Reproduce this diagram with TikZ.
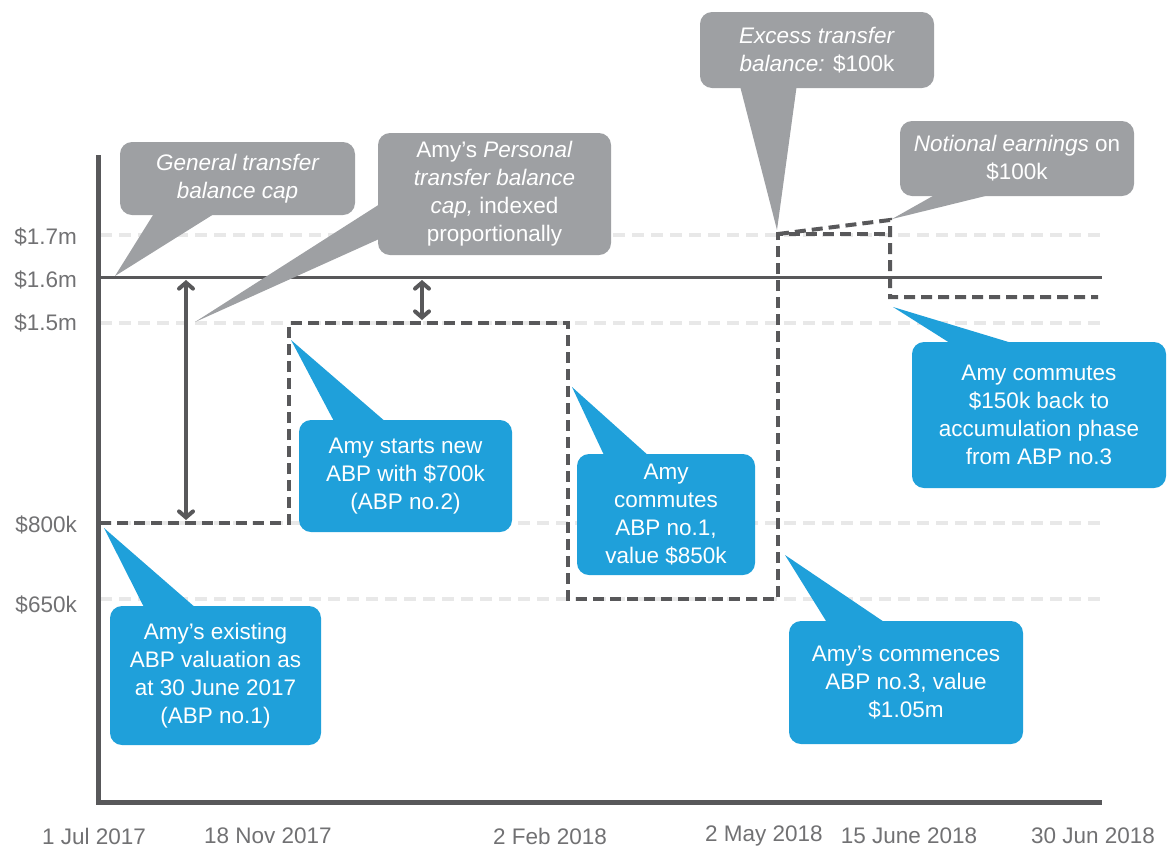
\documentclass[tikz,border=0pt]{standalone}
\usepackage{fontspec}
\setmainfont{Liberation Sans}
\usetikzlibrary{arrows.meta}
\definecolor{calloutgray}{RGB}{158,160,163}
\definecolor{calloutblue}{RGB}{31,160,218}
\definecolor{darkline}{RGB}{88,88,90}
\definecolor{gridline}{RGB}{232,232,232}
\tikzset{
  txt/.style={font=\fontsize{22.5}{28}\selectfont},
  graybox/.style={txt, fill=calloutgray, text=white, rounded corners=12pt, inner sep=0pt, align=center},
  bluebox/.style={txt, fill=calloutblue, text=white, rounded corners=12pt, inner sep=0pt, align=center},
  grayptr/.style={fill=calloutgray},
  blueptr/.style={fill=calloutblue},
  axisline/.style={draw=darkline, line width=5pt},
  capline/.style={draw=darkline, line width=3pt},
  gridl/.style={draw=gridline, line width=4pt, dash pattern=on 12pt off 7pt},
  series/.style={draw=darkline, line width=4pt, dash pattern=on 11pt off 6pt, line join=miter},
  gap/.style={draw=darkline, line width=3.5pt, {Straight Barb[length=6pt,width=14pt,line width=4pt,line cap=round]}-{Straight Barb[length=6pt,width=14pt,line width=4pt,line cap=round]}},
  ylab/.style={txt, text=darkline!85, anchor=east, inner sep=0pt},
  xlab/.style={txt, text=darkline!85, inner sep=0pt}
}
\begin{document}
\begin{tikzpicture}[x=1pt, y=-1pt]
\useasboundingbox (0,0) rectangle (1168,847);
% grid lines
\draw[gridl] (100,235) -- (1103,235);
\draw[gridl] (100,323) -- (1103,323);
\draw[gridl] (100,523) -- (1103,523);
\draw[gridl] (100,599) -- (1103,599);
% cap line
\draw[capline] (98,277) -- (1102,277);
% series
\draw[series] (100,523) -- (289,523) -- (289,323) -- (568,323) -- (568,599) -- (778,599) -- (778,234) -- (890,234);
\draw[series] (778,234) -- (890,220) -- (890,297) -- (1098,297);
% axes
\draw[axisline] (98,155) -- (98,802) -- (1102,802);
% gap arrows
\coordinate (g1a) at (186,280);
\coordinate (g1b) at (186,520);
\coordinate (g2a) at (422,280);
\coordinate (g2b) at (422,320);
\draw[gap] (g1a) -- (g1b);
\draw[gap] (g2a) -- (g2b);
% y labels
\node[ylab] (y17) at (77,237) {\$1.7m};
\node[ylab] (y16) at (77,280) {\$1.6m};
\node[ylab] (y15) at (77,323) {\$1.5m};
\node[ylab] (y800) at (77,525) {\$800k};
\node[ylab] (y650) at (77,605) {\$650k};
% x labels
\node[xlab] (d1) at (94,836) {1 Jul 2017};
\node[xlab] (d2) at (268,836) {18 Nov 2017};
\node[xlab] (d3) at (550,836) {2 Feb 2018};
\node[xlab] (d4) at (764,836) {2 May 2018};
\node[xlab] (d5) at (909,836) {15 June 2018};
\node[xlab] (d6) at (1093,836) {30 Jun 2018};
% callout tips
\coordinate (t1) at (115,276);
\coordinate (t2) at (195,322);
\coordinate (t3) at (777,230);
\coordinate (t4) at (892,219);
\coordinate (t5) at (104,528);
\coordinate (t6) at (291,340);
\coordinate (t7) at (572,387);
\coordinate (t8) at (785,555);
\coordinate (t9) at (893,307);
% gray callouts
\node[graybox, minimum width=235pt, minimum height=73pt] (b1) at (237.5,178.5) {\itshape General transfer\\\itshape balance cap};
\fill[grayptr] ([xshift=35pt,yshift=3pt]b1.south west) -- (t1) -- ([xshift=97pt,yshift=3pt]b1.south west) -- cycle;
\node[graybox, minimum width=233pt, minimum height=122pt] (b2) at (494.5,194) {Amy’s \textit{Personal}\\\textit{transfer balance}\\\textit{cap,} indexed\\proportionally};
\fill[grayptr] ([xshift=4pt,yshift=-70pt]b2.north west) -- (t2) -- ([xshift=4pt,yshift=-105pt]b2.north west) -- cycle;
\node[graybox, minimum width=234pt, minimum height=76pt] (b3) at (817,50) {\textit{Excess transfer}\\\textit{balance:} \$100k};
\fill[grayptr] ([xshift=40pt,yshift=3pt]b3.south west) -- (t3) -- ([xshift=97pt,yshift=3pt]b3.south west) -- cycle;
\node[graybox, minimum width=234pt, minimum height=75pt] (b4) at (1017,158.5) {\textit{Notional earnings} on\\\$100k};
\fill[grayptr] ([xshift=38pt,yshift=3pt]b4.south west) -- (t4) -- ([xshift=97pt,yshift=3pt]b4.south west) -- cycle;
% blue callouts
\node[bluebox, minimum width=211pt, minimum height=139pt] (b5) at (215.5,675.5) {Amy’s existing\\ABP valuation as\\at 30 June 2017\\(ABP no.1)};
\fill[blueptr] ([xshift=35pt,yshift=-3pt]b5.north west) -- (t5) -- ([xshift=87pt,yshift=-3pt]b5.north west) -- cycle;
\node[bluebox, minimum width=213pt, minimum height=112pt] (b6) at (405.5,476) {Amy starts new\\ABP with \$700k\\(ABP no.2)};
\fill[blueptr] ([xshift=36pt,yshift=-3pt]b6.north west) -- (t6) -- ([xshift=88pt,yshift=-3pt]b6.north west) -- cycle;
\node[bluebox, minimum width=178pt, minimum height=121pt] (b7) at (666,514.5) {Amy\\commutes\\ABP no.1,\\value \$850k};
\fill[blueptr] ([xshift=28pt,yshift=-3pt]b7.north west) -- (t7) -- ([xshift=73pt,yshift=-3pt]b7.north west) -- cycle;
\node[bluebox, minimum width=234pt, minimum height=123pt] (b8) at (906,682.5) {Amy’s commences\\ABP no.3, value\\\$1.05m};
\fill[blueptr] ([xshift=39pt,yshift=-3pt]b8.north west) -- (t8) -- ([xshift=98pt,yshift=-3pt]b8.north west) -- cycle;
\node[bluebox, minimum width=254pt, minimum height=146pt] (b9) at (1039,415) {Amy commutes\\\$150k back to\\accumulation phase\\from ABP no.3};
\fill[blueptr] ([xshift=41pt,yshift=-3pt]b9.north west) -- (t9) -- ([xshift=106pt,yshift=-3pt]b9.north west) -- cycle;
\end{tikzpicture}
\end{document}
